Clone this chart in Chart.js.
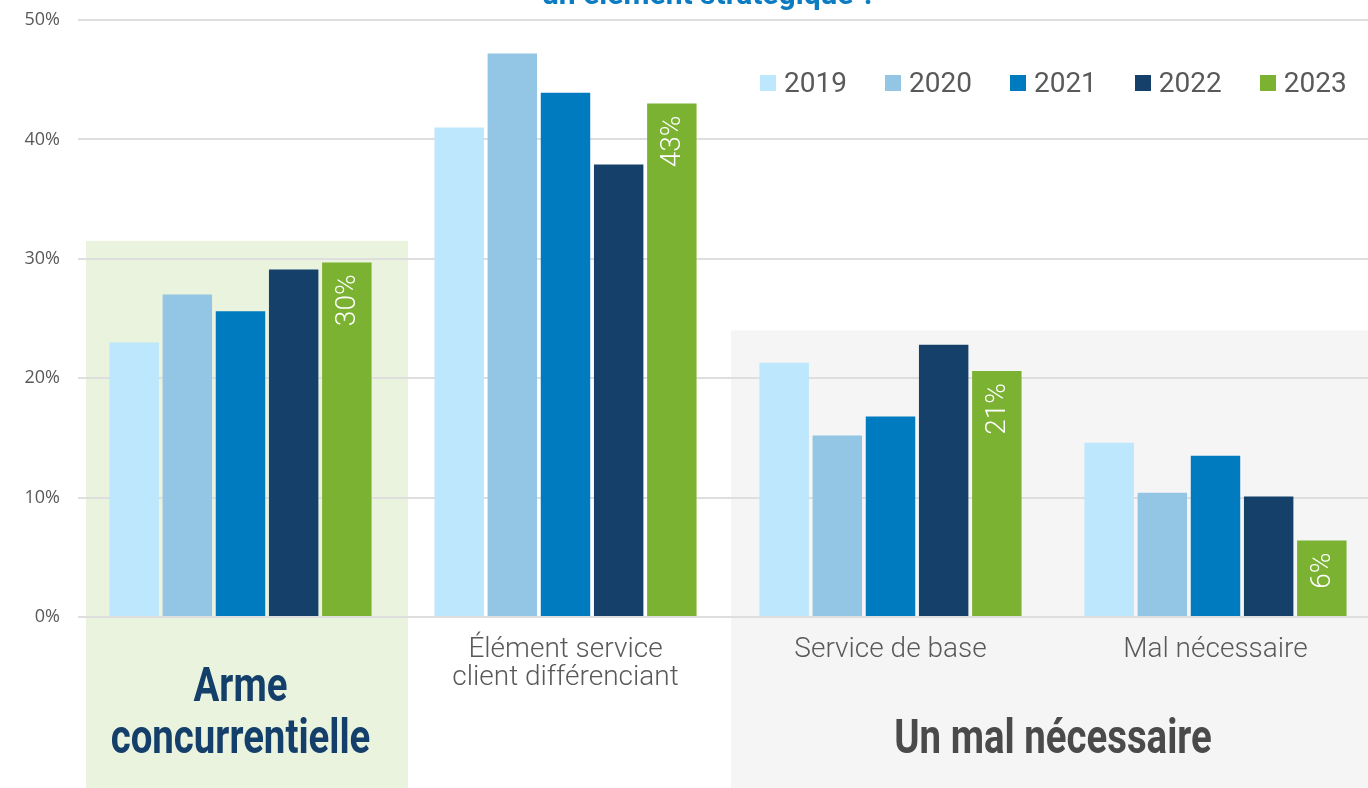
<!DOCTYPE html>
<html lang="fr">
<head>
<meta charset="utf-8">
<script src="https://cdn.jsdelivr.net/npm/chart.js@4.4.1/dist/chart.umd.min.js"></script>
<style>
  html, body { margin: 0; padding: 0; overflow: hidden; background: #fff; }
  #wrap { position: relative; width: 1380px; height: 788px; }
  #legend { position: absolute; left: 760px; top: 66px; display: flex; font-family: Roboto, sans-serif; font-size: 28px; color: #595959; line-height: 34px; }
  #legend .item { display: flex; align-items: center; margin-right: 38px; }
  #legend .box { width: 16px; height: 16px; margin-right: 8px; }
</style>
</head>
<body>
<div id="wrap">
  <canvas id="chart"></canvas>
  <div id="legend"></div>
</div>
<script>
const categories = ['Arme concurrentielle', ['Élément service', 'client différenciant'], 'Service de base', 'Mal nécessaire'];
const years = ['2019', '2020', '2021', '2022', '2023'];
const colors = ['#bde7fc', '#93c5e4', '#007bc0', '#15406a', '#7bb232'];

const v2019 = [23.0, 41.0, 21.3, 14.6];
const v2020 = [27.0, 47.2, 15.2, 10.4];
const v2021 = [25.6, 43.9, 16.8, 13.5];
const v2022 = [29.1, 37.9, 22.8, 10.1];
const v2023 = [29.7, 43.0, 20.6, 6.4];
const series = [v2019, v2020, v2021, v2022, v2023];

const yTicks = [0, 10, 20, 30, 40, 50];
const groupLabels = [['Arme', 'concurrentielle'], ['Un mal nécessaire']];
const titleText = 'un élément stratégique ?';

// shaded areas behind the groups
const panels = {
  id: 'panels',
  beforeDraw(chart) {
    const { ctx, scales: { x, y } } = chart;
    const half = (x.getPixelForValue(1) - x.getPixelForValue(0)) / 2;
    ctx.save();
    ctx.fillStyle = '#eaf3dd';
    const gx0 = x.getPixelForValue(0) - half + 8;
    const gx1 = x.getPixelForValue(0) + half + 5;
    const gy = y.getPixelForValue(31.5);
    ctx.fillRect(gx0, gy, gx1 - gx0, chart.height - gy);
    ctx.fillStyle = '#f5f5f5';
    const sx0 = x.getPixelForValue(2) - half + 3;
    const sy = y.getPixelForValue(24);
    ctx.fillRect(sx0, sy, chart.width - sx0, chart.height - sy);
    ctx.restore();
  }
};

// value labels on 2023 bars, group labels and title
const extras = {
  id: 'extras',
  afterDraw(chart) {
    const { ctx, scales: { x } } = chart;
    ctx.save();
    const meta = chart.getDatasetMeta(4);
    ctx.fillStyle = '#fff';
    ctx.font = '300 28px Roboto';
    ctx.textAlign = 'right';
    ctx.textBaseline = 'middle';
    meta.data.forEach((bar, i) => {
      ctx.save();
      ctx.translate(bar.x, bar.y + 12);
      ctx.rotate(-Math.PI / 2);
      ctx.fillText(Math.round(v2023[i]) + '%', 0, 1);
      ctx.restore();
    });

    ctx.font = 'bold 48px Roboto';
    ctx.textAlign = 'center';
    ctx.textBaseline = 'alphabetic';
    const drawCondensed = (txt, cx, base, color) => {
      ctx.save();
      ctx.fillStyle = color;
      ctx.translate(cx, base);
      ctx.scale(0.8, 1);
      ctx.fillText(txt, 0, 0);
      ctx.restore();
    };
    const c0 = x.getPixelForValue(0);
    drawCondensed(groupLabels[0][0], c0, 701, '#143f6a');
    drawCondensed(groupLabels[0][1], c0, 753, '#143f6a');
    const c23 = (x.getPixelForValue(2) + x.getPixelForValue(3)) / 2;
    drawCondensed(groupLabels[1][0], c23, 753, '#4a4a4a');

    ctx.fillStyle = '#0b7cc1';
    ctx.font = 'bold 30px Roboto';
    ctx.fillText(titleText, 709, 4);
    ctx.restore();
  }
};

const chart = new Chart(document.getElementById('chart'), {
  type: 'bar',
  data: {
    labels: categories,
    datasets: years.map((yr, i) => ({
      label: yr,
      data: series[i],
      backgroundColor: colors[i],
      borderWidth: 0,
      categoryPercentage: 0.818,
      barPercentage: 0.93
    }))
  },
  options: {
    responsive: true,
    maintainAspectRatio: false,
    animation: false,
    layout: { padding: { top: 20, right: 2, left: 0, bottom: 0 } },
    plugins: {
      legend: { display: false },
      tooltip: { enabled: false }
    },
    scales: {
      x: {
        grid: { display: false, drawTicks: false },
        border: { display: false },
        afterFit: (scale) => { scale.height = 171; scale.paddingTop = 0; },
        ticks: {
          autoSkip: false,
          maxRotation: 0,
          padding: 19,
          color: '#595959',
          font: { family: 'Roboto', weight: 300, size: 28, lineHeight: 1.0 },
          callback: (val, i) => i === 0 ? '' : categories[i]
        }
      },
      y: {
        min: 0,
        max: 50,
        afterFit: (scale) => { scale.width = 78; scale.paddingTop = 0; },
        afterBuildTicks: (scale) => { scale.ticks = yTicks.map(v => ({ value: v })); },
        grid: { color: '#dedede', lineWidth: 2, drawTicks: false },
        border: { display: false },
        ticks: {
          padding: 18,
          color: '#595959',
          font: { family: 'Open Sans', size: 18 },
          callback: (v) => v + '%'
        }
      }
    }
  },
  plugins: [panels, extras]
});

const legend = document.getElementById('legend');
years.forEach((yr, i) => {
  const item = document.createElement('div');
  item.className = 'item';
  const box = document.createElement('span');
  box.className = 'box';
  box.style.background = colors[i];
  const txt = document.createElement('span');
  txt.textContent = yr;
  item.appendChild(box);
  item.appendChild(txt);
  legend.appendChild(item);
});
</script>
</body>
</html>
